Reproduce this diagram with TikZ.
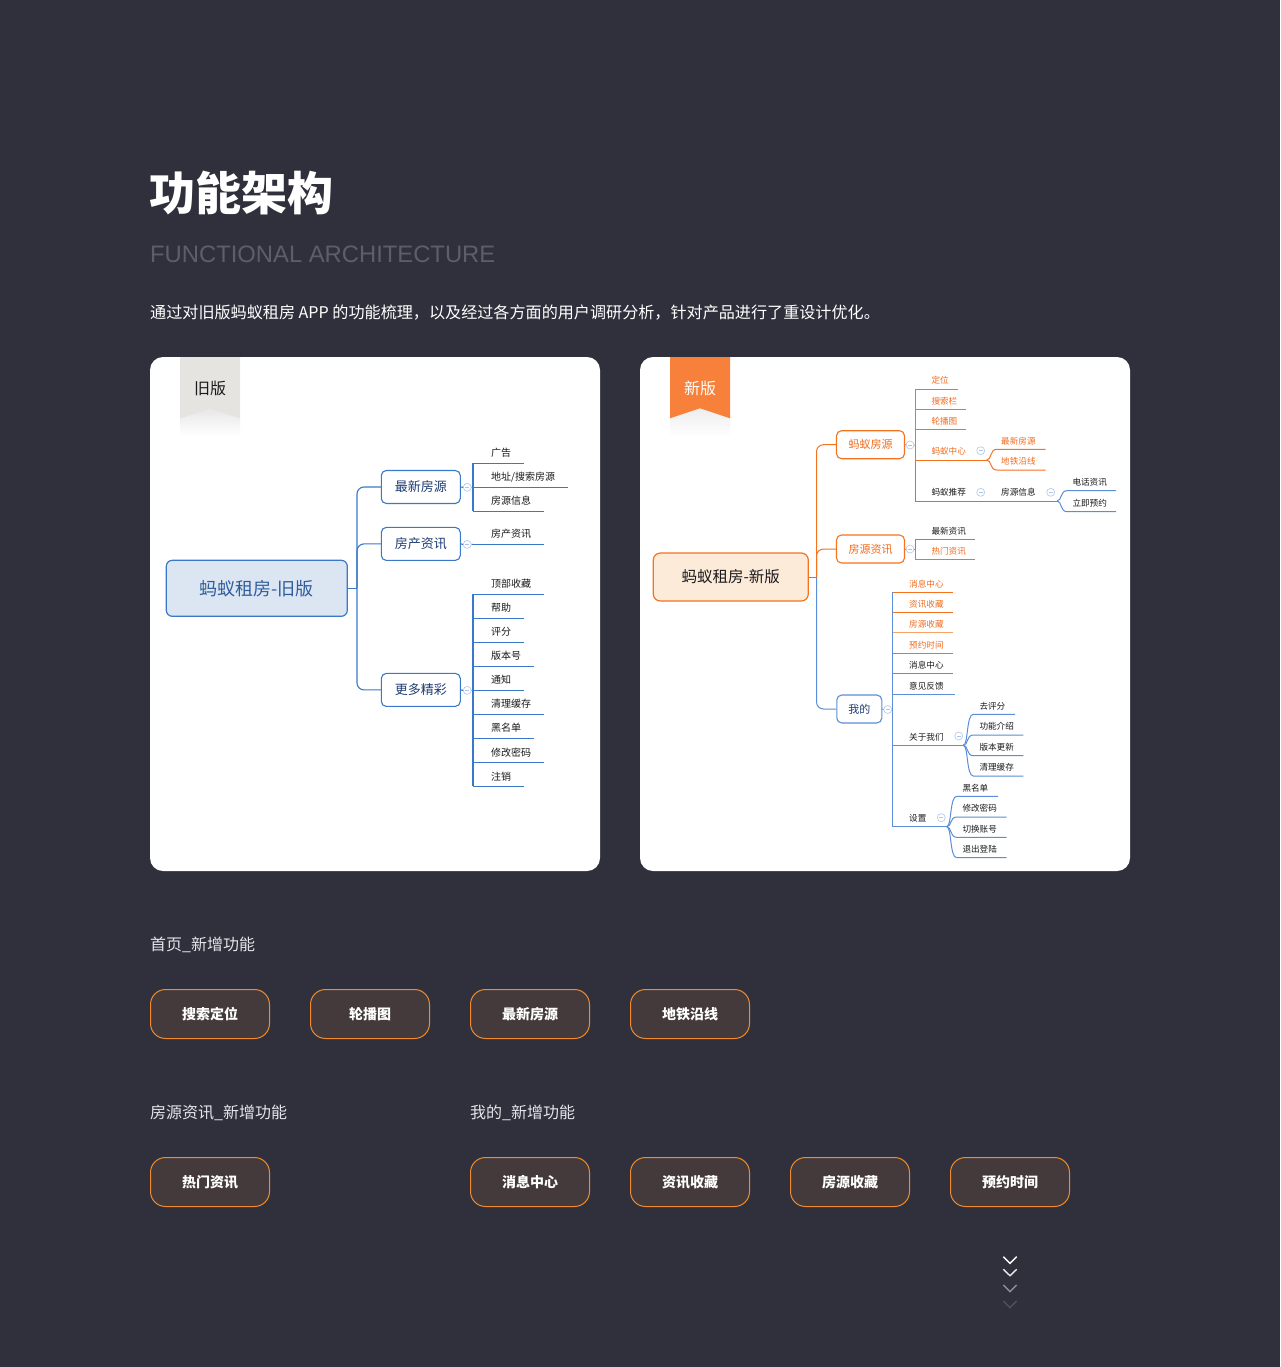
\documentclass[tikz,border=0pt]{standalone}
\usepackage{fontspec}
\setmainfont{Noto Sans CJK SC}
\newfontfamily\latinf{Liberation Sans}
\definecolor{bg}{HTML}{30303C}
\definecolor{oblue}{HTML}{3A78C9}
\definecolor{nblue}{HTML}{5B8ED6}
\definecolor{navy}{HTML}{1D3D72}
\definecolor{org}{HTML}{F5731F}
\definecolor{lorg}{HTML}{F8A266}
\definecolor{orgtxt}{HTML}{F26B1D}
\definecolor{tagorg}{HTML}{F7813A}
\definecolor{taggray}{HTML}{E6E4E1}
\definecolor{rootblue}{HTML}{DCE6F2}
\definecolor{rootorg}{HTML}{FDEBDA}
\definecolor{btnfill}{HTML}{443A3C}
\definecolor{btnline}{HTML}{F08A2C}
\definecolor{subgray}{HTML}{5E5E6B}
\definecolor{circc}{HTML}{AFC6EA}
\definecolor{ink}{HTML}{1A1A1A}
\definecolor{lbl}{HTML}{E4E4EA}
\newcommand\oleaf[4]{%
  \draw[oline] (473,#2) -- (#3,#2);
  \node[oleafs] (#1) at (491,{#2-10.2}) {#4};}
\newcommand\nleaf[7]{%
  \draw[nl,#5] (#2,#3) -- (#4,#3);
  \node[nleafs,text=#6] (#1) at ({#2+16.3},{#3-8.5}) {#7};}
\newcommand\bleaf[9]{%
  \draw[nl,#6] (#2,#3) .. controls ({#2+5},#3) and ({#2+3},#4) .. ({#2+10},#4) -- (#5,#4);
  \node[nleafs,text=#7] (#1) at (#8,{#4-8.5}) {#9};}
\newcommand\coll[3]{\node[collapse] (#1) at (#2,#3) {};}
\begin{document}
\begin{tikzpicture}[x=1pt,y=-1pt,
  oline/.style={draw=oblue,line width=1.1pt},
  nl/.style={line width=1pt},
  oleafs/.style={anchor=west,inner sep=0,text=ink,font=\fontsize{10}{10}\selectfont},
  nleafs/.style={anchor=west,inner sep=0,font=\fontsize{8.6}{8.6}\selectfont},
  obox/.style={draw=oblue,fill=white,line width=1.1pt,rounded corners=5pt,minimum width=79pt,minimum height=33pt,inner sep=0,text=navy,font=\fontsize{13}{13}\selectfont},
  nbox/.style={draw=org,fill=white,line width=1.1pt,rounded corners=5pt,minimum width=68pt,minimum height=28pt,inner sep=0,text=orgtxt,font=\fontsize{11}{11}\selectfont},
  collapse/.style={circle,draw=circc,fill=white,line width=0.6pt,minimum size=8pt,inner sep=0,
    path picture={\draw[circc,line width=0.6pt] ([xshift=-2pt]path picture bounding box.center) -- ([xshift=2pt]path picture bounding box.center);}},
  btn/.style={draw=btnline,fill=btnfill,line width=1pt,rounded corners=15pt,minimum width=119pt,minimum height=49pt,inner sep=0,text=white,font=\bfseries\fontsize{14}{14}\selectfont},
  seclbl/.style={anchor=west,inner sep=0,text=lbl,font=\fontsize{16}{16}\selectfont}]
\fill[bg] (0,0) rectangle (1280,1367);
\useasboundingbox (0,0) rectangle (1280,1367);
% heading
\node[anchor=west,inner sep=0,text=white,font=\bfseries\fontsize{46}{46}\selectfont] (title) at (149,193) {功能架构};
\node[anchor=west,inner sep=0,text=subgray,font=\latinf\fontsize{23.8}{23.8}\selectfont] (subtitle) at (150,254.5) {FUNCTIONAL ARCHITECTURE};
\node[anchor=west,inner sep=0,text=white,font=\fontsize{16.1}{16.1}\selectfont] (desc) at (150,313) {通过对旧版蚂蚁租房 APP 的功能梳理，以及经过各方面的用户调研分析，针对产品进行了重设计优化。};
% cards
\fill[white,rounded corners=13pt] (150,357) rectangle (600,871);
\fill[white,rounded corners=13pt] (640,357) rectangle (1130,871);
% tags
\shade[top color=black!9,bottom color=white] (180,418.6) -- (210,409.2) -- (240,418.6) -- (240,436) -- (180,436) -- cycle;
\fill[taggray] (180,357) -- (240,357) -- (240,418.6) -- (210,409.2) -- (180,418.6) -- cycle;
\node[inner sep=0,text=ink,font=\fontsize{16}{16}\selectfont] (tagold) at (210,388) {旧版};
\shade[top color=black!7,bottom color=white] (670,418.3) -- (700,408.3) -- (730,418.3) -- (730,436) -- (670,436) -- cycle;
\fill[tagorg] (670,357) -- (730,357) -- (730,418.3) -- (700,408.3) -- (670,418.3) -- cycle;
\node[inner sep=0,text=white,font=\fontsize{16}{16}\selectfont] (tagnew) at (700,388) {新版};
% ---------- old tree ----------
\node[draw=oblue,fill=rootblue,line width=1.2pt,rounded corners=6pt,minimum width=181pt,minimum height=56pt,inner sep=0,text={rgb,255:red,46;green,92;blue,158},font=\fontsize{18}{18}\selectfont] (oroot) at (256.8,588.3) {蚂蚁租房-旧版};
\coordinate (ot) at (357,588.3);
\node[obox] (ob1) at (420.8,487) {最新房源};
\node[obox] (ob2) at (420.8,543.9) {房产资讯};
\node[obox] (ob3) at (420.8,689.9) {更多精彩};
\draw[oline] (oroot.east) -- (ot);
\draw[oline,rounded corners=7pt] (ob1.west) -| (ot);
\draw[oline,rounded corners=7pt] (ob2.west) -| (ot);
\draw[oline,rounded corners=7pt] (ob3.west) -| (ot);
\coll{oc1}{467.3}{487.3}
\coll{oc2}{467.3}{544.4}
\coll{oc3}{467.3}{690.4}
\draw[oline] (ob1.east) -- (oc1.west) (oc1.east) -- (473,487.3);
\draw[oline] (ob2.east) -- (oc2.west) (oc2.east) -- (473,544.4);
\draw[oline] (ob3.east) -- (oc3.west) (oc3.east) -- (473,690.4);
\draw[oline] (473,463.3) -- (473,511.3);
\oleaf{o11}{463.3}{523.7}{广告}
\oleaf{o12}{487.3}{568}{地址/搜索房源}
\oleaf{o13}{511.3}{543.7}{房源信息}
\oleaf{o21}{544.4}{543.7}{房产资讯}
\draw[oline] (473,594.1) -- (473,786.4);
\oleaf{o31}{594.1}{543.7}{顶部收藏}
\oleaf{o32}{618.1}{523.7}{帮助}
\oleaf{o33}{642.2}{523.7}{评分}
\oleaf{o34}{666.2}{533.7}{版本号}
\oleaf{o35}{690.3}{523.7}{通知}
\oleaf{o36}{714.3}{543.7}{清理缓存}
\oleaf{o37}{738.3}{533.7}{黑名单}
\oleaf{o38}{762.4}{543.7}{修改密码}
\oleaf{o39}{786.4}{523.7}{注销}
% ---------- new tree ----------
\node[draw=org,fill=rootorg,line width=1.2pt,rounded corners=7pt,minimum width=155pt,minimum height=48pt,inner sep=0,text=ink,font=\fontsize{15.5}{15.5}\selectfont] (nroot) at (730.8,577) {蚂蚁租房-新版};
\coordinate (nt) at (816.5,577);
\node[nbox] (nb1) at (870.5,444.7) {蚂蚁房源};
\node[nbox] (nb2) at (870.5,549) {房源资讯};
\node[nbox,draw=nblue,text=navy,minimum width=45pt] (nb3) at (859.3,709) {我的};
\draw[nl,draw=nblue] (nroot.east) -- (nt);
\draw[nl,draw=org,rounded corners=7pt] (nb1.west) -| (nt);
\draw[nl,draw=org,rounded corners=7pt] (nb2.west) -| (nt);
\draw[nl,draw=nblue,rounded corners=7pt] (nb3.west) -| (nt);
\coll{nc1}{910}{445}
\coll{nc2}{910}{549}
\coll{nc3}{887.7}{709.5}
\draw[nl,draw=org] (nb1.east) -- (nc1.west) (nc1.east) -- (915,445);
\draw[nl,draw=org] (nb2.east) -- (nc2.west) (nc2.east) -- (915,549);
\draw[nl,draw=nblue] (nb3.east) -- (nc3.west) (nc3.east) -- (892.7,709.5);
% 蚂蚁房源 children
\draw[nl,draw=org] (915,389) -- (915,460);
\draw[nl,draw=nblue] (915,460) -- (915,501);
\nleaf{n11}{915}{389}{957.7}{draw=org}{orgtxt}{定位}
\nleaf{n12}{915}{409.3}{966.3}{draw=org}{orgtxt}{搜索栏}
\nleaf{n13}{915}{429.3}{966.3}{draw=org}{orgtxt}{轮播图}
\nleaf{n14}{915}{460}{986.7}{draw=org}{orgtxt}{蚂蚁中心}
\coll{nc14}{980.7}{450.7}
\bleaf{n141}{986.7}{460}{449.3}{1045.7}{draw=org}{orgtxt}{1001}{最新房源}
\bleaf{n142}{986.7}{460}{470}{1045.7}{draw=org}{orgtxt}{1001}{地铁沿线}
\nleaf{n15}{915}{501}{1057}{draw=nblue}{ink}{蚂蚁推荐}
\coll{nc15}{980.7}{492.3}
\node[nleafs,text=ink] (n151) at (1001,492.3) {房源信息};
\coll{nc151}{1050.7}{492.3}
\bleaf{n1511}{1057}{501}{490.7}{1116}{draw=nblue}{ink}{1072.3}{电话资讯}
\bleaf{n1512}{1057}{501}{511.7}{1116}{draw=nblue}{ink}{1072.3}{立即预约}
% 房源资讯 children
\draw[nl,draw=nblue] (915,539.3) -- (915,549);
\draw[nl,draw=org] (915,549) -- (915,559.3);
\nleaf{n21}{915}{539.3}{975}{draw=nblue}{ink}{最新资讯}
\nleaf{n22}{915}{559.3}{975}{draw=org}{orgtxt}{热门资讯}
% 我的 children
\draw[nl,draw=nblue] (892.7,592.3) -- (892.7,826.7);
\nleaf{n31}{892.7}{592.3}{952.7}{draw=org}{orgtxt}{消息中心}
\nleaf{n32}{892.7}{612.3}{952.7}{draw=org}{orgtxt}{资讯收藏}
\nleaf{n33}{892.7}{632.7}{952.7}{draw=lorg}{orgtxt}{房源收藏}
\nleaf{n34}{892.7}{653.3}{952.7}{draw=org}{orgtxt}{预约时间}
\nleaf{n35}{892.7}{673.7}{952.7}{draw=nblue}{ink}{消息中心}
\nleaf{n36}{892.7}{694.3}{955.3}{draw=nblue}{ink}{意见反馈}
\nleaf{n37}{892.7}{745.3}{963.3}{draw=nblue}{ink}{关于我们}
\coll{nc37}{958.7}{736}
\bleaf{n371}{963.3}{745.3}{714.3}{1015}{draw=nblue}{ink}{979.3}{去评分}
\bleaf{n372}{963.3}{745.3}{735}{1023.3}{draw=nblue}{ink}{979.3}{功能介绍}
\bleaf{n373}{963.3}{745.3}{755.7}{1023.3}{draw=nblue}{ink}{979.3}{版本更新}
\bleaf{n374}{963.3}{745.3}{776}{1023.3}{draw=nblue}{ink}{979.3}{清理缓存}
\nleaf{n38}{892.7}{826.7}{946.7}{draw=nblue}{ink}{设置}
\coll{nc38}{941.3}{817.7}
\bleaf{n381}{946.7}{826.7}{796.3}{998}{draw=nblue}{ink}{962.3}{黑名单}
\bleaf{n382}{946.7}{826.7}{817}{1006.7}{draw=nblue}{ink}{962.3}{修改密码}
\bleaf{n383}{946.7}{826.7}{837.3}{1006.7}{draw=nblue}{ink}{962.3}{切换账号}
\bleaf{n384}{946.7}{826.7}{857.7}{1006.7}{draw=nblue}{ink}{962.3}{退出登陆}
% ---------- new features ----------
\node[seclbl] (s1) at (150,945) {首页\_新增功能};
\node[btn] (k1) at (210,1014) {搜索定位};
\node[btn] (k2) at (370,1014) {轮播图};
\node[btn] (k3) at (530,1014) {最新房源};
\node[btn] (k4) at (690,1014) {地铁沿线};
\node[seclbl] (s2) at (150,1113) {房源资讯\_新增功能};
\node[seclbl] (s3) at (470,1113) {我的\_新增功能};
\node[btn] (k5) at (210,1182) {热门资讯};
\node[btn] (k6) at (530,1182) {消息中心};
\node[btn] (k7) at (690,1182) {资讯收藏};
\node[btn] (k8) at (850,1182) {房源收藏};
\node[btn] (k9) at (1010,1182) {预约时间};
% chevrons
\draw[white,line width=1.4pt] (1003.3,1256.7) -- (1010,1263.3) -- (1016.7,1256.7);
\draw[white!90!bg,line width=1.4pt] (1003.3,1269.3) -- (1010,1275.7) -- (1016.7,1269.3);
\draw[white!45!bg,line width=1.4pt] (1003.3,1285) -- (1010,1291.7) -- (1016.7,1285);
\draw[white!15!bg,line width=1.4pt] (1003.3,1301) -- (1010,1307.7) -- (1016.7,1301);
\end{tikzpicture}
\end{document}
